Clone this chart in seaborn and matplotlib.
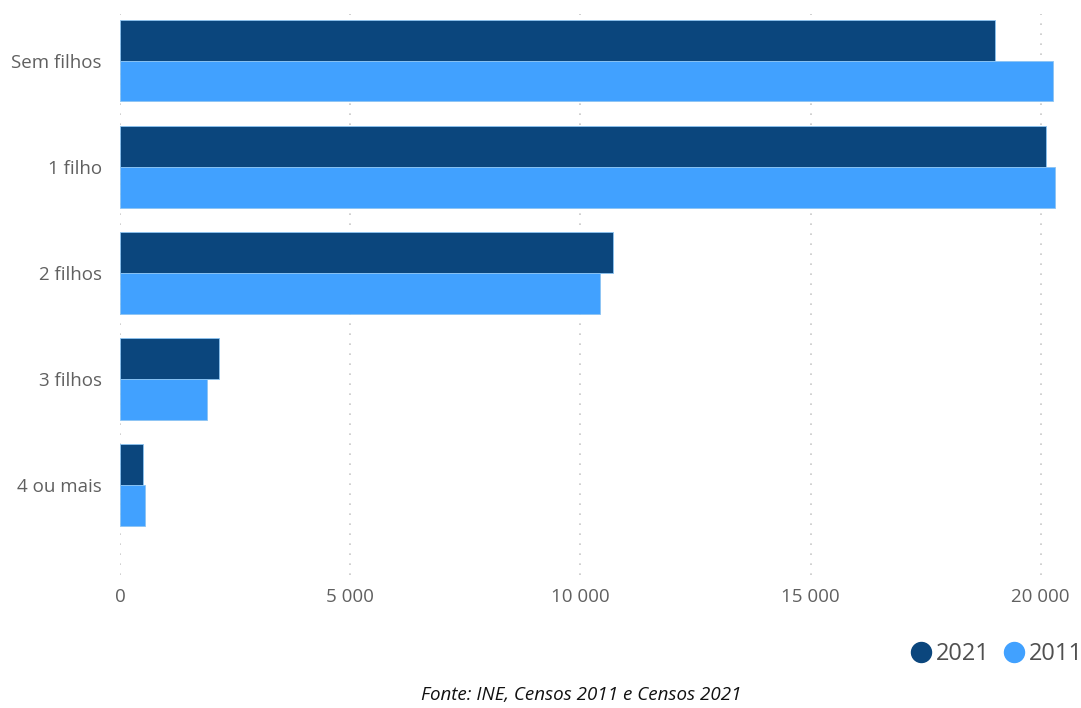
import matplotlib
matplotlib.use("Agg")
import matplotlib.pyplot as plt
from matplotlib.lines import Line2D
import seaborn as sns
import pandas as pd

categories = ["Sem filhos", "1 filho", "2 filhos", "3 filhos", "4 ou mais"]
values_2021 = [19000, 20120, 10710, 2150, 495]
values_2011 = [20260, 20310, 10430, 1890, 538]
years = ["2021", "2011"]
xticks = [0, 5000, 10000, 15000, 20000]
xtick_labels = ["0", "5 000", "10 000", "15 000", "20 000"]
source_text = "Fonte: INE, Censos 2011 e Censos 2021"

colors = {"2021": "#0B467D", "2011": "#41A1FF"}

df = pd.DataFrame({
    "categoria": categories * 2,
    "ano": [years[0]] * len(categories) + [years[1]] * len(categories),
    "valor": values_2021 + values_2011,
})

sns.set_theme(style="white")
plt.rcParams["font.family"] = ["Open Sans", "DejaVu Sans"]

fig = plt.figure(figsize=(10.81, 7.08), dpi=100)
ax = fig.add_axes([120 / 1081, 1 - 575 / 708, 950 / 1081, 561 / 708])

sns.barplot(data=df, y="categoria", x="valor", hue="ano", order=categories,
            hue_order=years, palette=colors, saturation=1, orient="h",
            width=0.77, gap=0, ax=ax, legend=False, edgecolor="#8cc4f2",
            linewidth=0.6, errorbar=None)

ax.set_xlim(0, 950 / 0.046035)
ax.set_ylim(4.85, -0.44)
ax.set_xticks(xticks)
ax.set_xticklabels(xtick_labels)
ax.set_xlabel("")
ax.set_ylabel("")
for s in ax.spines.values():
    s.set_visible(False)
ax.tick_params(axis="both", length=0, labelsize=13.5, labelcolor="#606060")
ax.tick_params(axis="x", pad=9)
ax.tick_params(axis="y", pad=13)
ax.grid(axis="x", color="#c8c8c8", linestyle=(0, (1, 5)), linewidth=1.2)
ax.set_axisbelow(True)

handles = [Line2D([], [], marker="o", linestyle="", markersize=14.4,
                  markerfacecolor=colors[y], markeredgecolor=colors[y], label=y)
           for y in years]
leg = fig.legend(handles=handles, loc="center right",
                 bbox_to_anchor=(1083 / 1081, 1 - 654 / 708),
                 ncol=2, frameon=False, fontsize=17, handlelength=1.0,
                 handletextpad=0.15, columnspacing=0.5, borderaxespad=0.0,
                 borderpad=0.0)
for t in leg.get_texts():
    t.set_color("#505050")

fig.text(581 / 1081, 1 - 695 / 708, source_text, ha="center", va="center",
         fontsize=13.5, fontstyle="italic", color="#111111")

fig.savefig("out.png", dpi=100)
